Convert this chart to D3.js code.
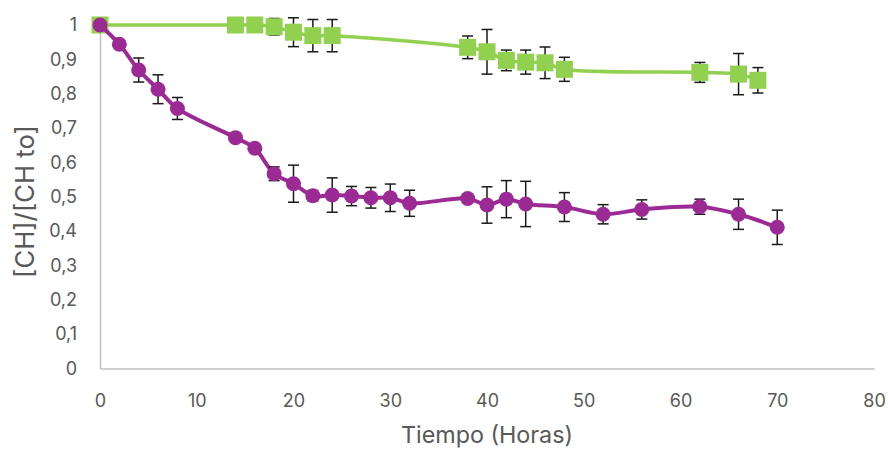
<!DOCTYPE html>
<html><head><meta charset="utf-8">
<script src="https://cdn.jsdelivr.net/npm/d3@7"></script>
<style>
html,body{margin:0;padding:0;background:#fff;}
svg text{font-family:"Inter","Open Sans",sans-serif;fill:#595959;}
</style></head>
<body>
<svg id="chart" width="888" height="450"></svg>
<script>
const xTicks = [0,10,20,30,40,50,60,70,80];
const yTicks = [0,0.1,0.2,0.3,0.4,0.5,0.6,0.7,0.8,0.9,1];
const xTitle = "Tiempo (Horas)";
const yTitle = "[CH]/[CH to]";

const purpleX   = [0,2,4,6,8,14,16,18,20,22,24,26,28,30,32,38,40,42,44,48,52,56,62,66,70];
const purpleY   = [1.0,0.944,0.869,0.813,0.757,0.672,0.641,0.567,0.538,0.503,0.505,0.502,0.497,0.497,0.481,0.495,0.476,0.493,0.479,0.470,0.449,0.463,0.471,0.449,0.411];
const purpleErr = [0,0,0.035,0.042,0.032,0,0,0.02,0.054,0.015,0.05,0.028,0.03,0.04,0.038,0,0.053,0.054,0.066,0.042,0.028,0.028,0.022,0.044,0.05];

const greenX   = [0,14,16,18,20,22,24,38,40,42,44,46,48,62,66,68];
const greenY   = [1.0,1.0,1.0,0.995,0.979,0.969,0.969,0.935,0.922,0.897,0.892,0.890,0.871,0.862,0.857,0.839];
const greenErr = [0,0,0,0.024,0.042,0.047,0.047,0.033,0.065,0.03,0.035,0.046,0.035,0.029,0.06,0.037];

const svg = d3.select("#chart");
const x = d3.scaleLinear().domain([0,80]).range([100,874]);
const y = d3.scaleLinear().domain([0,1]).range([368.5,25]);
const fmt = d => String(+d.toFixed(1)).replace(".", ",");

function fitWidth(sel, target) {
  const n = sel.node();
  const fs = parseFloat(sel.attr("font-size"));
  const w = n.getComputedTextLength();
  if (w > 0) sel.attr("font-size", fs * target / w);
}

const probe = svg.append("text").attr("font-size",20).text("40");
fitWidth(probe, 23);
const tickFs = parseFloat(probe.attr("font-size"));
probe.remove();

const xAxis = svg.append("g").attr("transform","translate(0,368.5)")
  .call(d3.axisBottom(x).tickValues(xTicks).tickSize(0).tickPadding(0).tickFormat(d=>d));
xAxis.select(".domain").attr("stroke","#BFBFBF").attr("stroke-width",1.5);
xAxis.selectAll("text").attr("font-size",tickFs).attr("fill","#595959")
  .attr("dy",null).attr("y",38.5);

const yAxis = svg.append("g").attr("transform","translate(100,0)")
  .call(d3.axisLeft(y).tickValues(yTicks).tickSize(0).tickPadding(23).tickFormat(fmt));
yAxis.select(".domain").attr("stroke","#BFBFBF").attr("stroke-width",1.5);
yAxis.selectAll("text").attr("font-size",tickFs).attr("fill","#595959");

const xt = svg.append("text").attr("x",487).attr("y",443).attr("text-anchor","middle")
  .attr("font-size",22).text(xTitle);
fitWidth(xt, 172);
const yt = svg.append("text").attr("transform","translate(33.5,201.5) rotate(-90)").attr("text-anchor","middle")
  .attr("font-size",22).text(yTitle);
fitWidth(yt, 153);

function series(xs, ys, es, color, width, marker) {
  const pts = xs.map((d,i)=>({x:d,y:ys[i],e:es[i]}));
  const g = svg.append("g");
  g.append("path").datum(pts)
    .attr("fill","none").attr("stroke",color).attr("stroke-width",width)
    .attr("d", d3.line().x(d=>x(d.x)).y(d=>y(d.y)).curve(d3.curveCatmullRom.alpha(0.5)));
  const eb = g.append("g").attr("stroke","#1a1a1a").attr("stroke-width",1.5);
  pts.filter(d=>d.e>0).forEach(d=>{
    const cx = x(d.x), t = y(d.y+d.e), b = y(d.y-d.e);
    eb.append("line").attr("x1",cx).attr("x2",cx).attr("y1",t).attr("y2",b);
    eb.append("line").attr("x1",cx-5.5).attr("x2",cx+5.5).attr("y1",t).attr("y2",t);
    eb.append("line").attr("x1",cx-5.5).attr("x2",cx+5.5).attr("y1",b).attr("y2",b);
  });
  if (marker === "square") {
    g.selectAll("rect").data(pts).enter().append("rect")
      .attr("x",d=>x(d.x)-8.5).attr("y",d=>y(d.y)-8.5).attr("width",17).attr("height",17)
      .attr("fill",color);
  } else {
    g.selectAll("circle").data(pts).enter().append("circle")
      .attr("cx",d=>x(d.x)).attr("cy",d=>y(d.y)).attr("r",7.5).attr("fill",color);
  }
}
series(greenX, greenY, greenErr, "#92D050", 3.5, "square");
series(purpleX, purpleY, purpleErr, "#9C2A95", 4, "circle");
</script>
</body></html>
